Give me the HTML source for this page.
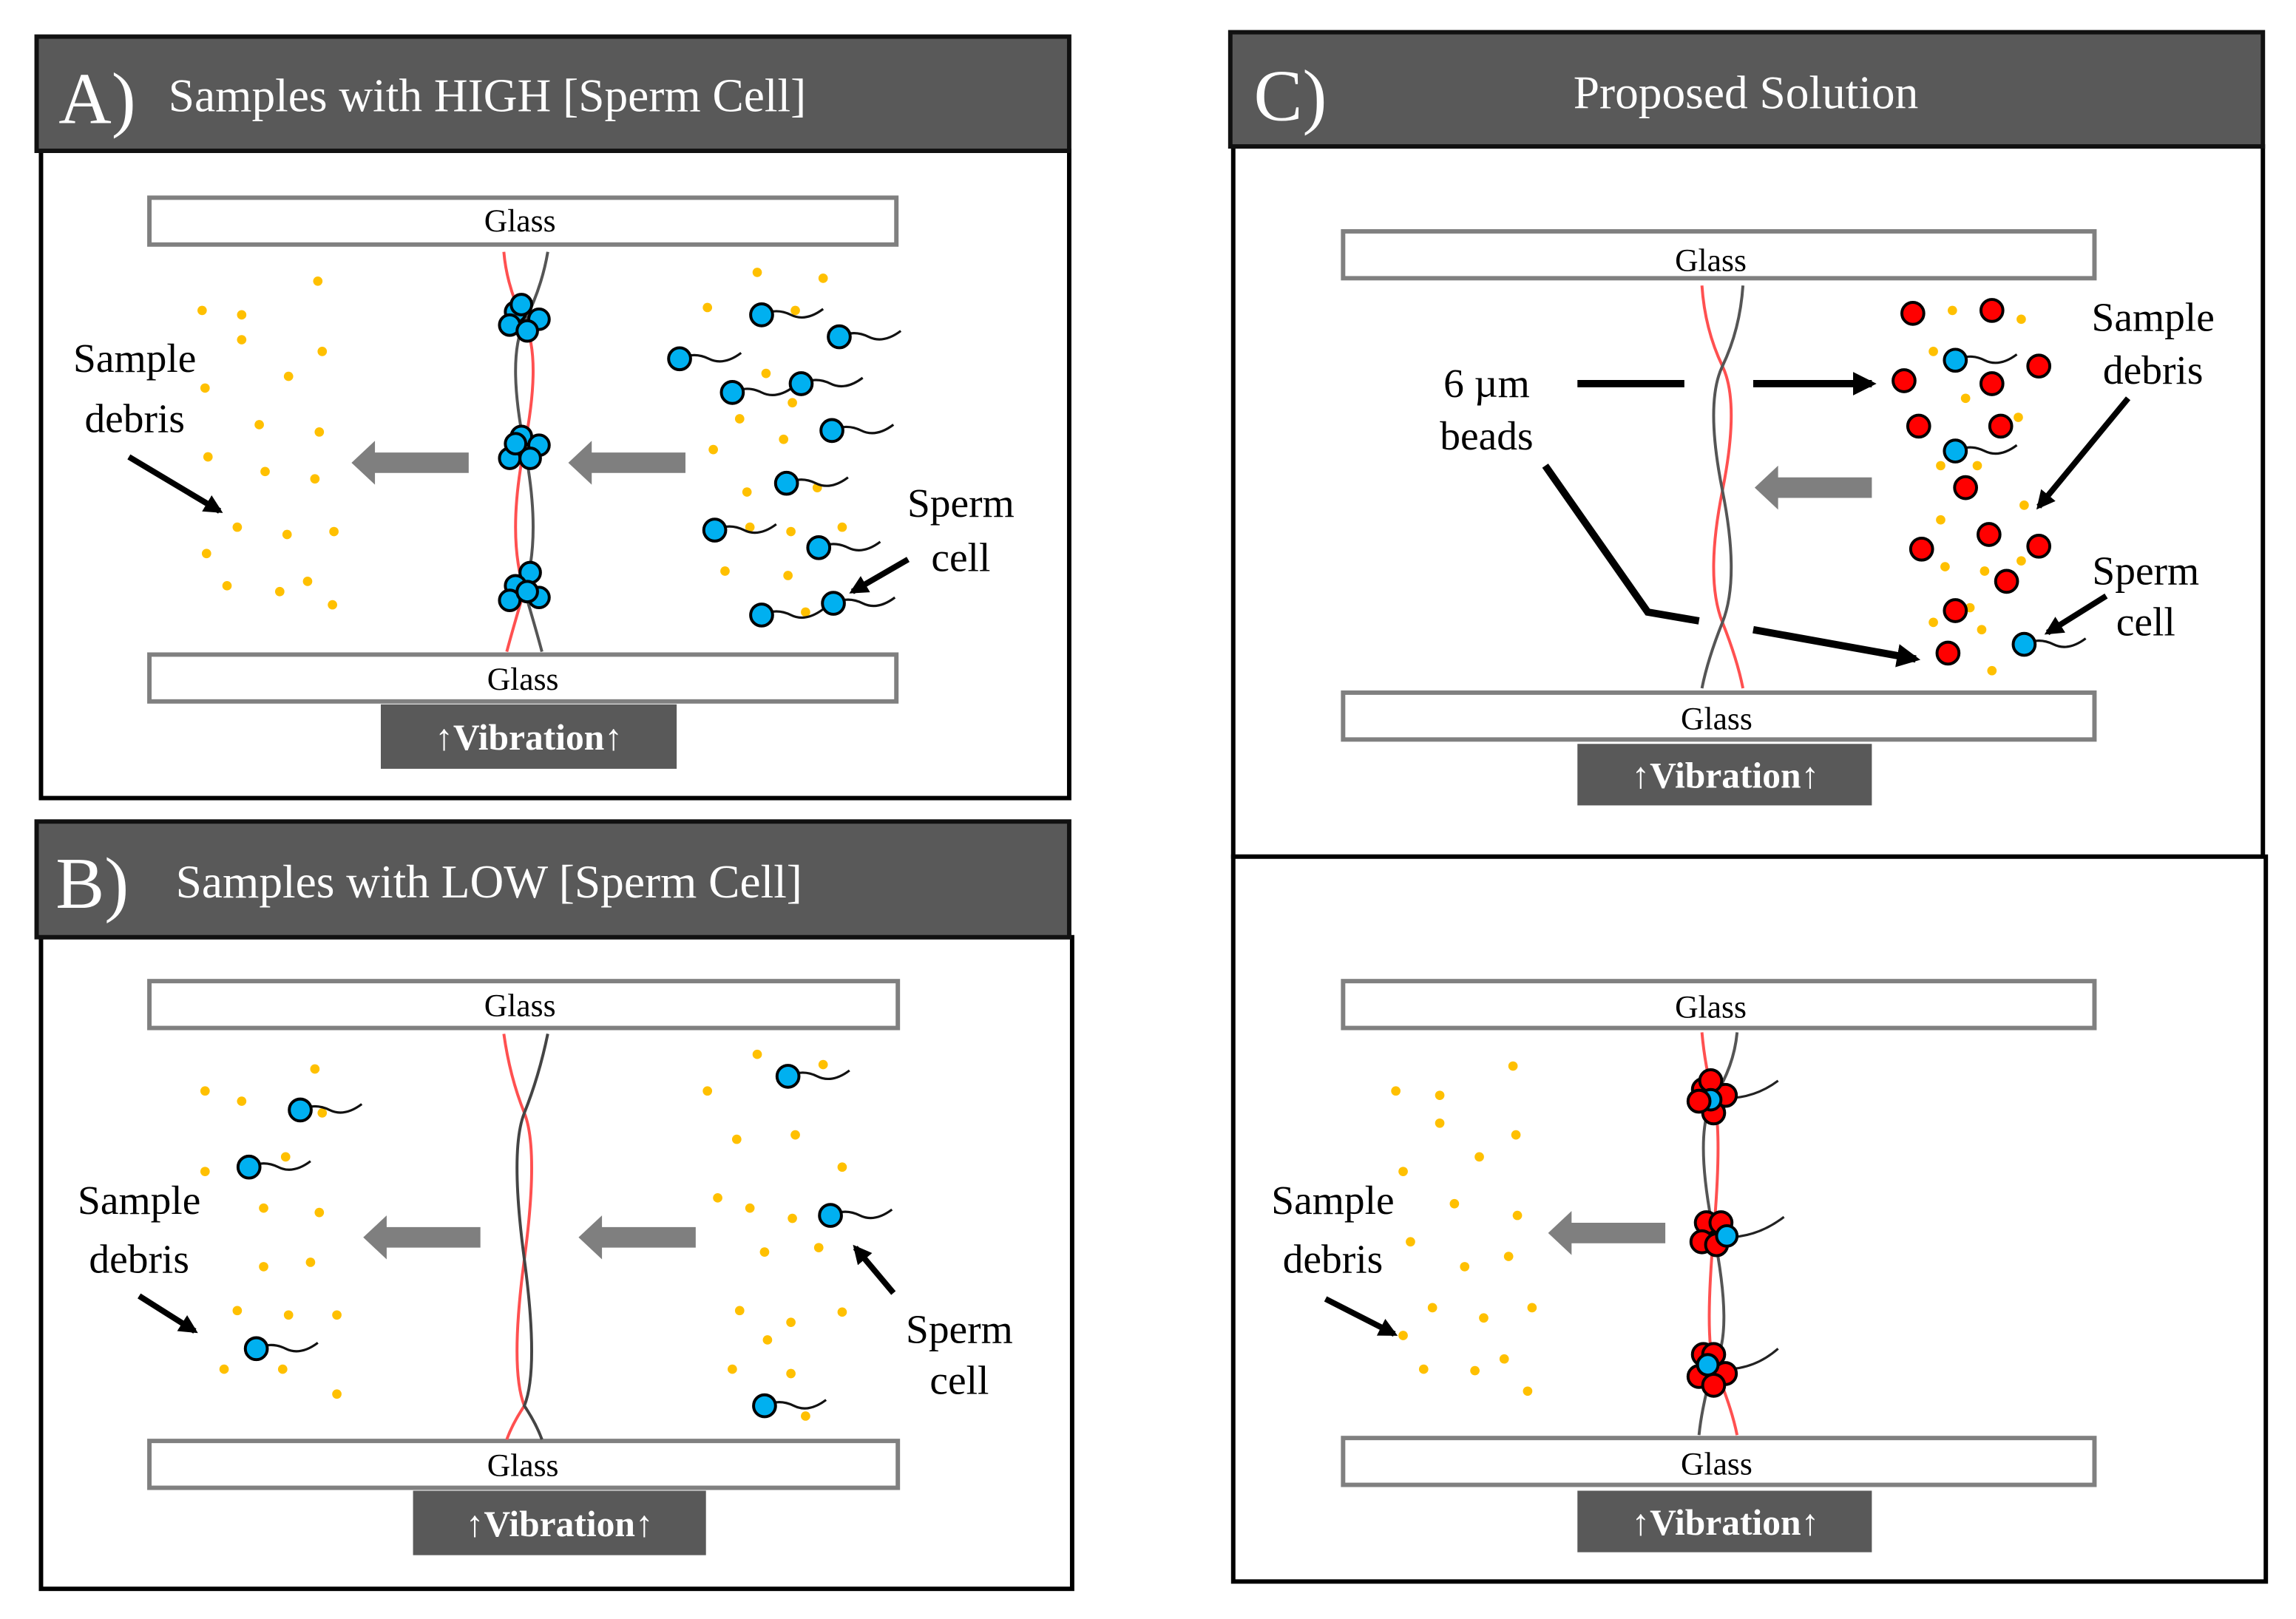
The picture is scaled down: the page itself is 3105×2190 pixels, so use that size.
<!DOCTYPE html>
<html><head><meta charset="utf-8"><style>
html,body{margin:0;padding:0;background:#fff;width:3105px;height:2190px;overflow:hidden}
svg{display:block}
text{font-family:"Liberation Serif",serif}
</style></head><body>
<svg width="3105" height="2190" viewBox="0 0 1567.6 1105.6" preserveAspectRatio="none" xmlns="http://www.w3.org/2000/svg">
<defs>
<g id="sp"><path d="M0 0 q10 -5 20 0 t22 -4" fill="none" stroke="#111" stroke-width="1.6"/><circle cx="0" cy="0" r="7.5" fill="#00B0F0" stroke="#000" stroke-width="2"/></g>
<circle id="yd" r="3.2" fill="#FFC000"/>
<circle id="bd" r="7.5" fill="#FF0000" stroke="#000" stroke-width="2"/>
<circle id="bl" r="7" fill="#00B0F0" stroke="#000" stroke-width="2"/>
<polygon id="ga" points="0,0 16,-15 16,-7 80,-7 80,7 16,7 16,15" fill="#7F7F7F"/>
<marker id="ah" viewBox="0 0 10 10" refX="8" refY="5" markerWidth="3.2" markerHeight="3.2" orient="auto"><path d="M0 0 L10 5 L0 10z" fill="#000"/></marker>
</defs>

<!-- Panel A -->
<rect x="28" y="103" width="702" height="442" fill="#fff" stroke="#000" stroke-width="3"/>
<rect x="25" y="25" width="705" height="78" fill="#595959" stroke="#111" stroke-width="3"/>
<text x="40" y="84" font-size="50" fill="#fff">A)</text>
<text x="115" y="76" font-size="32" fill="#fff">Samples with HIGH [Sperm Cell]</text>
<rect x="102" y="135" width="510" height="32" fill="#fff" stroke="#808080" stroke-width="3"/>
<text x="355" y="158" font-size="22" text-anchor="middle">Glass</text>
<rect x="102" y="447" width="510" height="32" fill="#fff" stroke="#808080" stroke-width="3"/>
<text x="357" y="471" font-size="22" text-anchor="middle">Glass</text>
<rect x="260" y="481" width="202" height="44" fill="#595959"/>
<text x="361" y="512" font-size="25" font-weight="bold" fill="#fff" text-anchor="middle">↑Vibration↑</text>
<path d="M344 172 Q346 196 358 220 T358 305 T358 403 Q350 430 346 445" fill="none" stroke="#FF5050" stroke-width="2"/>
<path d="M374 172 Q370 196 358 220 T358 305 T358 403 Q366 430 370 445" fill="none" stroke="#555" stroke-width="2"/>
<g>
<use href="#bl" x="352" y="213"/><use href="#bl" x="368" y="218"/><use href="#bl" x="348" y="222"/><use href="#bl" x="360" y="226"/><use href="#bl" x="356" y="208"/>
<use href="#bl" x="356" y="298"/><use href="#bl" x="368" y="304"/><use href="#bl" x="348" y="313"/><use href="#bl" x="362" y="313"/><use href="#bl" x="352" y="303"/>
<use href="#bl" x="362" y="391"/><use href="#bl" x="352" y="400"/><use href="#bl" x="368" y="408"/><use href="#bl" x="348" y="410"/><use href="#bl" x="360" y="404"/>
</g>
<g>
<use href="#yd" x="217" y="192"/><use href="#yd" x="138" y="212"/><use href="#yd" x="165" y="215"/><use href="#yd" x="165" y="232"/><use href="#yd" x="220" y="240"/><use href="#yd" x="197" y="257"/><use href="#yd" x="140" y="265"/><use href="#yd" x="177" y="290"/><use href="#yd" x="218" y="295"/><use href="#yd" x="142" y="312"/><use href="#yd" x="181" y="322"/><use href="#yd" x="215" y="327"/><use href="#yd" x="162" y="360"/><use href="#yd" x="196" y="365"/><use href="#yd" x="228" y="363"/><use href="#yd" x="141" y="378"/><use href="#yd" x="155" y="400"/><use href="#yd" x="191" y="404"/><use href="#yd" x="210" y="397"/><use href="#yd" x="227" y="413"/>
<use href="#yd" x="517" y="186"/><use href="#yd" x="562" y="190"/><use href="#yd" x="483" y="210"/><use href="#yd" x="543" y="212"/><use href="#yd" x="523" y="255"/><use href="#yd" x="541" y="275"/><use href="#yd" x="505" y="286"/><use href="#yd" x="535" y="300"/><use href="#yd" x="487" y="307"/><use href="#yd" x="510" y="336"/><use href="#yd" x="558" y="333"/><use href="#yd" x="512" y="360"/><use href="#yd" x="540" y="363"/><use href="#yd" x="575" y="360"/><use href="#yd" x="495" y="390"/><use href="#yd" x="538" y="393"/><use href="#yd" x="550" y="418"/>
</g>
<g>
<use href="#sp" x="520" y="215"/><use href="#sp" x="573" y="230"/><use href="#sp" x="464" y="245"/><use href="#sp" x="500" y="268"/><use href="#sp" x="547" y="262"/><use href="#sp" x="568" y="294"/><use href="#sp" x="537" y="330"/><use href="#sp" x="488" y="362"/><use href="#sp" x="559" y="374"/><use href="#sp" x="520" y="420"/><use href="#sp" x="569" y="412"/>
</g>
<use href="#ga" x="240" y="316"/><use href="#ga" x="388" y="316"/>
<text x="92" y="254" font-size="28" text-anchor="middle">Sample</text>
<text x="92" y="295" font-size="28" text-anchor="middle">debris</text>
<line x1="88" y1="312" x2="150" y2="349" stroke="#000" stroke-width="4" marker-end="url(#ah)"/>
<text x="656" y="353" font-size="28" text-anchor="middle">Sperm</text>
<text x="656" y="390" font-size="28" text-anchor="middle">cell</text>
<line x1="620" y1="382" x2="582" y2="404" stroke="#000" stroke-width="4" marker-end="url(#ah)"/>

<!-- Panel B -->
<rect x="28" y="640" width="704" height="445" fill="#fff" stroke="#000" stroke-width="3"/>
<rect x="25" y="561" width="705" height="79" fill="#595959" stroke="#111" stroke-width="3"/>
<text x="38" y="620" font-size="50" fill="#fff">B)</text>
<text x="120" y="613" font-size="32" fill="#fff">Samples with LOW [Sperm Cell]</text>
<rect x="102" y="670" width="511" height="32" fill="#fff" stroke="#808080" stroke-width="3"/>
<text x="355" y="694" font-size="22" text-anchor="middle">Glass</text>
<rect x="102" y="984" width="511" height="32" fill="#fff" stroke="#808080" stroke-width="3"/>
<text x="357" y="1008" font-size="22" text-anchor="middle">Glass</text>
<rect x="282" y="1018" width="200" height="44" fill="#595959"/>
<text x="382" y="1049" font-size="25" font-weight="bold" fill="#fff" text-anchor="middle">↑Vibration↑</text>
<path d="M344 706 Q348 735 358 760 T358 860 T358 960 Q350 972 346 983" fill="none" stroke="#FF5050" stroke-width="2"/>
<path d="M374 706 Q368 735 358 760 T358 860 T358 960 Q366 972 370 983" fill="none" stroke="#444" stroke-width="2"/>
<g>
<use href="#yd" x="215" y="730"/><use href="#yd" x="140" y="745"/><use href="#yd" x="165" y="752"/><use href="#yd" x="220" y="760"/><use href="#yd" x="195" y="790"/><use href="#yd" x="140" y="800"/><use href="#yd" x="180" y="825"/><use href="#yd" x="218" y="828"/><use href="#yd" x="212" y="862"/><use href="#yd" x="162" y="895"/><use href="#yd" x="197" y="898"/><use href="#yd" x="230" y="898"/><use href="#yd" x="153" y="935"/><use href="#yd" x="193" y="935"/><use href="#yd" x="230" y="952"/><use href="#yd" x="180" y="865"/>
<use href="#yd" x="517" y="720"/><use href="#yd" x="562" y="727"/><use href="#yd" x="483" y="745"/><use href="#yd" x="503" y="778"/><use href="#yd" x="543" y="775"/><use href="#yd" x="575" y="797"/><use href="#yd" x="490" y="818"/><use href="#yd" x="512" y="825"/><use href="#yd" x="541" y="832"/><use href="#yd" x="522" y="855"/><use href="#yd" x="559" y="852"/><use href="#yd" x="505" y="895"/><use href="#yd" x="540" y="903"/><use href="#yd" x="575" y="896"/><use href="#yd" x="524" y="915"/><use href="#yd" x="500" y="935"/><use href="#yd" x="540" y="938"/><use href="#yd" x="550" y="967"/>
</g>
<use href="#sp" x="205" y="758"/><use href="#sp" x="170" y="797"/><use href="#sp" x="175" y="921"/><use href="#sp" x="538" y="735"/><use href="#sp" x="567" y="830"/><use href="#sp" x="522" y="960"/>
<use href="#ga" x="248" y="845"/><use href="#ga" x="395" y="845"/>
<text x="95" y="829" font-size="28" text-anchor="middle">Sample</text>
<text x="95" y="869" font-size="28" text-anchor="middle">debris</text>
<line x1="95" y1="885" x2="133" y2="909" stroke="#000" stroke-width="4" marker-end="url(#ah)"/>
<text x="655" y="917" font-size="28" text-anchor="middle">Sperm</text>
<text x="655" y="952" font-size="28" text-anchor="middle">cell</text>
<line x1="610" y1="883" x2="584" y2="852" stroke="#000" stroke-width="4" marker-end="url(#ah)"/>

<!-- Panel C -->
<rect x="842" y="100" width="703" height="485" fill="#fff" stroke="#000" stroke-width="3"/>
<rect x="842" y="585" width="705" height="495" fill="#fff" stroke="#000" stroke-width="3"/>
<rect x="840" y="22" width="705" height="78" fill="#595959" stroke="#111" stroke-width="3"/>
<text x="856" y="82" font-size="50" fill="#fff">C)</text>
<text x="1192" y="74" font-size="32" fill="#fff" text-anchor="middle">Proposed Solution</text>

<rect x="917" y="158" width="513" height="32" fill="#fff" stroke="#808080" stroke-width="3"/>
<text x="1168" y="185" font-size="22" text-anchor="middle">Glass</text>
<rect x="917" y="473" width="513" height="32" fill="#fff" stroke="#808080" stroke-width="3"/>
<text x="1172" y="498" font-size="22" text-anchor="middle">Glass</text>
<rect x="1077" y="508" width="201" height="42" fill="#595959"/>
<text x="1178" y="538" font-size="25" font-weight="bold" fill="#fff" text-anchor="middle">↑Vibration↑</text>
<path d="M1162 195 Q1164 225 1176 250 T1176 335 T1176 425 Q1186 450 1190 470" fill="none" stroke="#FF5050" stroke-width="2"/>
<path d="M1190 195 Q1188 225 1176 250 T1176 335 T1176 425 Q1166 450 1162 470" fill="none" stroke="#555" stroke-width="2"/>
<g>
<use href="#yd" x="1333" y="212"/><use href="#yd" x="1380" y="218"/><use href="#yd" x="1320" y="240"/><use href="#yd" x="1342" y="272"/><use href="#yd" x="1378" y="285"/><use href="#yd" x="1325" y="318"/><use href="#yd" x="1350" y="318"/><use href="#yd" x="1382" y="345"/><use href="#yd" x="1325" y="355"/><use href="#yd" x="1355" y="390"/><use href="#yd" x="1345" y="415"/><use href="#yd" x="1320" y="425"/><use href="#yd" x="1353" y="430"/><use href="#yd" x="1360" y="458"/><use href="#yd" x="1328" y="387"/><use href="#yd" x="1380" y="383"/>
</g>
<use href="#sp" x="1335" y="246"/><use href="#sp" x="1335" y="308"/><use href="#sp" x="1382" y="440"/>
<g>
<use href="#bd" x="1306" y="214"/><use href="#bd" x="1360" y="212"/><use href="#bd" x="1300" y="260"/><use href="#bd" x="1360" y="262"/><use href="#bd" x="1392" y="250"/><use href="#bd" x="1310" y="291"/><use href="#bd" x="1366" y="291"/><use href="#bd" x="1342" y="333"/><use href="#bd" x="1312" y="375"/><use href="#bd" x="1358" y="365"/><use href="#bd" x="1392" y="373"/><use href="#bd" x="1370" y="397"/><use href="#bd" x="1335" y="417"/><use href="#bd" x="1330" y="446"/>
</g>
<use href="#ga" x="1198" y="333"/>
<text x="1015" y="271" font-size="28" text-anchor="middle">6 µm</text>
<text x="1015" y="307" font-size="28" text-anchor="middle">beads</text>
<line x1="1077" y1="262" x2="1150" y2="262" stroke="#000" stroke-width="5"/>
<line x1="1197" y1="262" x2="1278" y2="262" stroke="#000" stroke-width="5" marker-end="url(#ah)"/>
<polyline points="1055,318 1125,418 1160,424" fill="none" stroke="#000" stroke-width="5"/>
<line x1="1197" y1="430" x2="1308" y2="450" stroke="#000" stroke-width="5" marker-end="url(#ah)"/>
<text x="1470" y="226" font-size="28" text-anchor="middle">Sample</text>
<text x="1470" y="262" font-size="28" text-anchor="middle">debris</text>
<line x1="1453" y1="272" x2="1392" y2="346" stroke="#000" stroke-width="4" marker-end="url(#ah)"/>
<text x="1465" y="399" font-size="28" text-anchor="middle">Sperm</text>
<text x="1465" y="434" font-size="28" text-anchor="middle">cell</text>
<line x1="1438" y1="407" x2="1398" y2="432" stroke="#000" stroke-width="4" marker-end="url(#ah)"/>

<rect x="917" y="670" width="513" height="32" fill="#fff" stroke="#808080" stroke-width="3"/>
<text x="1168" y="695" font-size="22" text-anchor="middle">Glass</text>
<rect x="917" y="982" width="513" height="32" fill="#fff" stroke="#808080" stroke-width="3"/>
<text x="1172" y="1007" font-size="22" text-anchor="middle">Glass</text>
<rect x="1077" y="1018" width="201" height="42" fill="#595959"/>
<text x="1178" y="1048" font-size="25" font-weight="bold" fill="#fff" text-anchor="middle">↑Vibration↑</text>
<path d="M1162 705 Q1164 728 1170 750 T1170 842 T1170 932 Q1182 960 1186 980" fill="none" stroke="#FF5050" stroke-width="2"/>
<path d="M1186 705 Q1184 728 1170 750 T1170 842 T1170 932 Q1162 960 1160 980" fill="none" stroke="#555" stroke-width="2"/>
<g fill="none" stroke="#222" stroke-width="1.6">
<path d="M1178 750 q20 0 36 -12"/><path d="M1178 845 q22 0 40 -14"/><path d="M1178 935 q20 0 36 -14"/>
</g>
<g>
<use href="#bd" x="1163" y="744"/><use href="#bd" x="1178" y="748"/><use href="#bd" x="1168" y="738"/><use href="#bd" x="1170" y="760"/><use href="#bl" x="1168" y="751"/><use href="#bd" x="1160" y="752"/>
<use href="#bd" x="1165" y="835"/><use href="#bd" x="1175" y="835"/><use href="#bd" x="1162" y="848"/><use href="#bd" x="1172" y="850"/><use href="#bl" x="1179" y="844"/>
<use href="#bd" x="1163" y="925"/><use href="#bd" x="1178" y="938"/><use href="#bd" x="1160" y="940"/><use href="#bd" x="1170" y="946"/><use href="#bd" x="1170" y="925"/><use href="#bl" x="1166" y="932"/>
</g>
<g>
<use href="#yd" x="1033" y="728"/><use href="#yd" x="953" y="745"/><use href="#yd" x="983" y="748"/><use href="#yd" x="983" y="767"/><use href="#yd" x="1035" y="775"/><use href="#yd" x="1010" y="790"/><use href="#yd" x="958" y="800"/><use href="#yd" x="993" y="822"/><use href="#yd" x="1036" y="830"/><use href="#yd" x="963" y="848"/><use href="#yd" x="1000" y="865"/><use href="#yd" x="1030" y="858"/><use href="#yd" x="978" y="893"/><use href="#yd" x="1013" y="900"/><use href="#yd" x="1046" y="893"/><use href="#yd" x="958" y="912"/><use href="#yd" x="972" y="935"/><use href="#yd" x="1007" y="936"/><use href="#yd" x="1027" y="928"/><use href="#yd" x="1043" y="950"/>
</g>
<use href="#ga" x="1057" y="842"/>
<text x="910" y="829" font-size="28" text-anchor="middle">Sample</text>
<text x="910" y="869" font-size="28" text-anchor="middle">debris</text>
<line x1="905" y1="887" x2="952" y2="911" stroke="#000" stroke-width="4" marker-end="url(#ah)"/>
</svg>
</body></html>
